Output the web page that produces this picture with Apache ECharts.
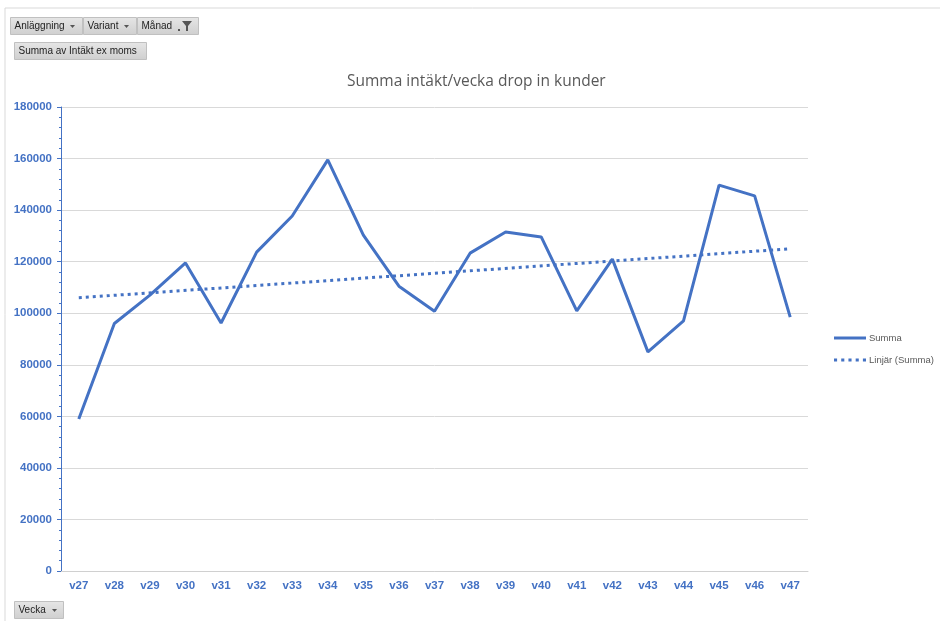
<!DOCTYPE html>
<html><head><meta charset="utf-8">
<script src="https://cdn.jsdelivr.net/npm/echarts@6/dist/echarts.min.js"></script>
<style>html,body{margin:0;padding:0;background:#fff}#c{width:940px;height:621px}</style>
</head><body><div id="c"></div>
<script>
const weeks = ['v27','v28','v29','v30','v31','v32','v33','v34','v35','v36','v37','v38','v39','v40','v41','v42','v43','v44','v45','v46','v47'];
const summa = [59000,96000,107000,119500,96200,123700,137700,159500,130300,110500,100800,123300,131500,129600,100900,121000,85000,97000,149700,145500,98500];
const trendStart = 106000;
const trendEnd = 125000;
const yTicks = [0,20000,40000,60000,80000,100000,120000,140000,160000,180000];

const blue = '#4472C4';
const chart = echarts.init(document.getElementById('c'));
function btn(x,y,w,h,label){
  return {type:'group',left:x,top:y,children:[
    {type:'rect',shape:{x:0,y:0,width:w,height:h},style:{fill:new echarts.graphic.LinearGradient(0,0,0,1,[{offset:0,color:'#e6e6e6'},{offset:1,color:'#cfcfcf'}]),stroke:'#c0c0c0',lineWidth:1}},
    {type:'text',x:4,y:h/2,style:{text:label,font:'10px "Liberation Sans", Arial',fill:'#222',verticalAlign:'middle'}}
  ]};
}
function arrow(x,y){return {type:'polygon',shape:{points:[[x,y],[x+5,y],[x+2.5,y+3]]},style:{fill:'#555'}};}
chart.setOption({
  animation:false,
  title:{text:'Summa intäkt/vecka drop in kunder',left:347,top:74,textStyle:{fontFamily:'Open Sans',fontSize:15.5,fontWeight:'normal',color:'#595959'},padding:0},
  grid:{left:61,right:132,top:107,bottom:50},
  legend:{orient:'vertical',left:829,top:328,itemWidth:32,itemHeight:10,itemGap:12,
    textStyle:{fontFamily:'Liberation Sans',fontSize:9.5,color:'#595959',padding:[0,0,0,-2]},
    data:[{name:'Summa',icon:'path://M0,4L32,4L32,7L0,7Z'},{name:'Linjär (Summa)',icon:'path://M0,4h3v3h-3zM7,4h3v3h-3zM14,4h3v3h-3zM21,4h3v3h-3zM28,4h3v3h-3z'}]},
  xAxis:{type:'category',data:weeks,boundaryGap:true,
    axisLine:{lineStyle:{color:'#d0d0d0',width:1}},axisTick:{show:false},
    axisLabel:{color:blue,fontWeight:'bold',fontFamily:'Liberation Sans',fontSize:11.5,margin:9}},
  yAxis:{type:'value',min:0,max:180000,interval:20000,
    axisLine:{show:true,lineStyle:{color:blue,width:1}},
    axisTick:{show:true,length:4,lineStyle:{color:blue}},
    minorTick:{show:true,splitNumber:5,length:2,lineStyle:{color:blue}},
    splitLine:{lineStyle:{color:'#d9d9d9',width:1}},
    axisLabel:{color:blue,fontWeight:'bold',fontFamily:'Liberation Sans',fontSize:11.5,margin:9,
      formatter:v=>yTicks.includes(v)?String(v):''}},
  series:[
    {name:'Summa',type:'line',data:summa,showSymbol:false,lineStyle:{color:blue,width:3},itemStyle:{color:blue}},
    {name:'Linjär (Summa)',type:'line',data:[[weeks[0],trendStart],[weeks[weeks.length-1],trendEnd]],showSymbol:false,
      lineStyle:{color:blue,width:3,type:[3,4]},itemStyle:{color:blue}}
  ],
  graphic:[
    {type:'line',shape:{x1:5,y1:8,x2:940,y2:8},style:{stroke:'#d9d9d9',lineWidth:1}},
    {type:'line',shape:{x1:5,y1:8,x2:5,y2:621},style:{stroke:'#d9d9d9',lineWidth:1}},
    btn(10,17,72,17,'Anläggning'),
    btn(83,17,53,17,'Variant'),
    btn(137,17,61,17,'Månad'),
    arrow(70,25),arrow(124,25),
    {type:'polygon',shape:{points:[[182,21],[192,21],[188,26],[188,31],[186,31],[186,26]]},style:{fill:'#555'}},
    {type:'rect',shape:{x:178,y:29,width:2,height:2},style:{fill:'#555'}},
    btn(14,42,132,17,'Summa av Intäkt ex moms'),
    btn(14,601,49,17,'Vecka'),
    arrow(52,609)
  ]
});
</script></body></html>
